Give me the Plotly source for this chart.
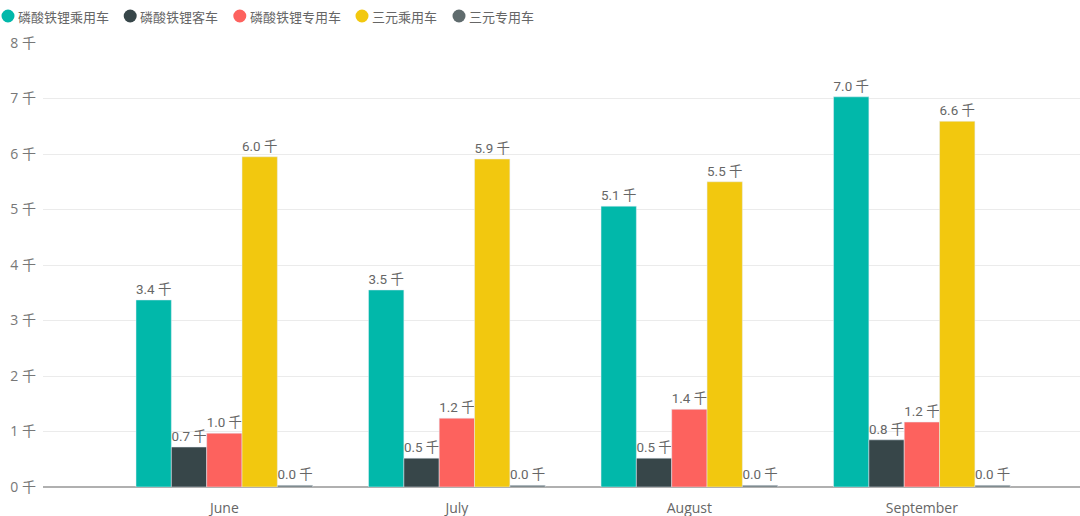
import plotly.graph_objects as go

months = ["June", "July", "August", "September"]
series_names = ["磷酸铁锂乘用车", "磷酸铁锂客车", "磷酸铁锂专用车", "三元乘用车", "三元专用车"]
# values in thousands (千)
lfp_passenger = [3.37, 3.55, 5.06, 7.03]
lfp_bus = [0.72, 0.52, 0.52, 0.85]
lfp_special = [0.97, 1.24, 1.40, 1.17]
ncm_passenger = [5.95, 5.91, 5.50, 6.59]
ncm_special = [0.03, 0.03, 0.03, 0.03]
colors = ["#01B8AA", "#374649", "#FD625E", "#F2C80F", "#5F6B6D"]

all_values = [lfp_passenger, lfp_bus, lfp_special, ncm_passenger, ncm_special]

W, H = 1080, 516
ML, MR, MT, MB = 43, 0, 43, 29
PW, PH = W - ML - MR, H - MT - MB

fig = go.Figure()
for name, vals, col in zip(series_names, all_values, colors):
    fig.add_trace(go.Bar(
        x=months, y=vals, name=name, marker_color=col, showlegend=False,
        texttemplate="%{y:.1f} 千", textposition="outside", cliponaxis=False,
        textfont=dict(family="Roboto, Noto Sans CJK SC", size=13.5, color="#666666"),
    ))

# manual legend (circle + text), laid out left to right
def px_x(p):
    return (p - ML) / PW

def px_y(p):
    return 1 + (MT - p) / PH

ly = 16
cx = 8
char_w = 12.6
for name, col in zip(series_names, colors):
    fig.add_shape(type="circle", xref="paper", yref="paper",
                  xsizemode="pixel", ysizemode="pixel",
                  xanchor=px_x(cx), yanchor=px_y(ly),
                  x0=-6.5, x1=6.5, y0=-6.5, y1=6.5,
                  fillcolor=col, line=dict(width=0))
    fig.add_annotation(x=px_x(cx + 8), y=px_y(ly), xref="paper", yref="paper",
                       text=name, showarrow=False, xanchor="left", yanchor="middle",
                       font=dict(size=13, color="#666666", family="Noto Sans CJK SC"))
    cx = cx + 8 + len(name) * char_w + 26

fig.update_layout(
    width=W, height=H,
    margin=dict(l=ML, r=MR, t=MT, b=MB),
    paper_bgcolor="white", plot_bgcolor="white",
    barmode="group", bargap=0.24, bargroupgap=0,
    font=dict(family="Open Sans, Noto Sans CJK SC", color="#666666"),
    showlegend=False,
)
fig.update_xaxes(range=[-0.78, 3.68], showline=True, linecolor="#b0b0b0", linewidth=1,
                 ticks="", tickfont=dict(size=14, color="#666666"), showgrid=False,
                 ticklabelstandoff=8, automargin=False)
fig.update_yaxes(range=[0, 8], dtick=1, ticksuffix=" 千", showgrid=True,
                 gridcolor="#ebebeb", zeroline=True, zerolinecolor="#b0b0b0",
                 ticklabelstandoff=6, automargin=False,
                 tickfont=dict(size=14, color="#777777", family="Open Sans, Noto Sans CJK SC"))
fig.write_html("out.html", config={"displayModeBar": False},
               post_script="document.body.style.margin='0';")
